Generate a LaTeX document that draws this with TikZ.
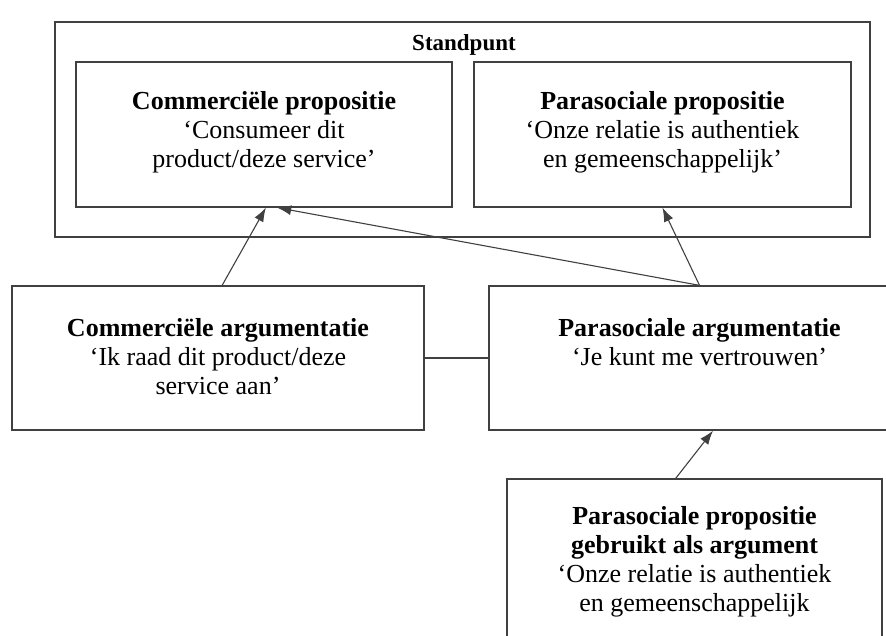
\documentclass[tikz,border=0pt]{standalone}
\usepackage{fontspec}
\setmainfont{Liberation Serif}
\usetikzlibrary{calc,arrows.meta}

\tikzset{
  box/.style={draw=black!75, line width=1.3pt, inner sep=0pt},
  txt/.style={anchor=north, align=center, inner sep=0pt, font=\fontsize{26}{29}\selectfont},
  arr/.style={draw=black!75, line width=1.1pt, -{Latex[length=14pt,width=10pt]}}
}

\begin{document}
\begin{tikzpicture}[x=1pt,y=-1pt]

\useasboundingbox (0,0) rectangle (886,635);
\clip (0,0) rectangle (886,635);

% Define the boxes
\node[box, minimum width=815, minimum height=215] (standpunt) at (462.5,129.5) {};
\node[box, minimum width=376, minimum height=145] (cprop) at (264,134.5) {};
\node[box, minimum width=377, minimum height=145] (pprop) at (662.5,134.5) {};
\node[box, minimum width=412, minimum height=144] (carg) at (218,358) {};
\node[box, minimum width=421, minimum height=144] (parg) at (699.5,358) {};
\node[box, minimum width=375, minimum height=221] (pgebr) at (694.5,589.5) {};

% Texts in the boxes
\node[anchor=base, inner sep=0pt, font=\fontsize{23}{26}\selectfont\bfseries] (stlabel) at (464,50) {Standpunt};
\node[txt] (cproptext) at ([yshift=-30pt]cprop.north) {\textbf{Commerciële propositie}\\‘Consumeer dit\\product/deze service’};
\node[txt] (pproptext) at ([yshift=-30pt]pprop.north) {\textbf{Parasociale propositie}\\‘Onze relatie is authentiek\\en gemeenschappelijk’};
\node[txt] (cargtext) at ([yshift=-33pt]carg.north) {\textbf{Commerciële argumentatie}\\‘Ik raad dit product/deze\\service aan’};
\node[txt] (pargtext) at ([yshift=-33pt]parg.north) {\textbf{Parasociale argumentatie}\\‘Je kunt me vertrouwen’};
\node[txt] (pgebrtext) at ([yshift=-28pt]pgebr.north) {\textbf{Parasociale propositie}\\\textbf{gebruikt als argument}\\‘Onze relatie is authentiek\\en gemeenschappelijk};

% Points where the arrows meet the boxes
\coordinate (C1) at ($(carg.north west)!0.51!(carg.north east)$);
\coordinate (C2) at ($(cprop.south west)!0.505!(cprop.south east)$);
\coordinate (C3) at ($(cprop.south west)!0.535!(cprop.south east)$);
\coordinate (P1) at ($(pgebr.north west)!0.45!(pgebr.north east)$);
\coordinate (P2) at ($(parg.south west)!0.532!(parg.south east)$);

% Connectors
\draw[arr] (C1) -- (C2);
\draw[arr] (parg.north) -- (C3);
\draw[arr] (parg.north) -- (pprop.south);
\draw[arr] (P1) -- (P2);
\draw[draw=black!75, line width=1.1pt] (carg.east) -- (parg.west);

\end{tikzpicture}
\end{document}
